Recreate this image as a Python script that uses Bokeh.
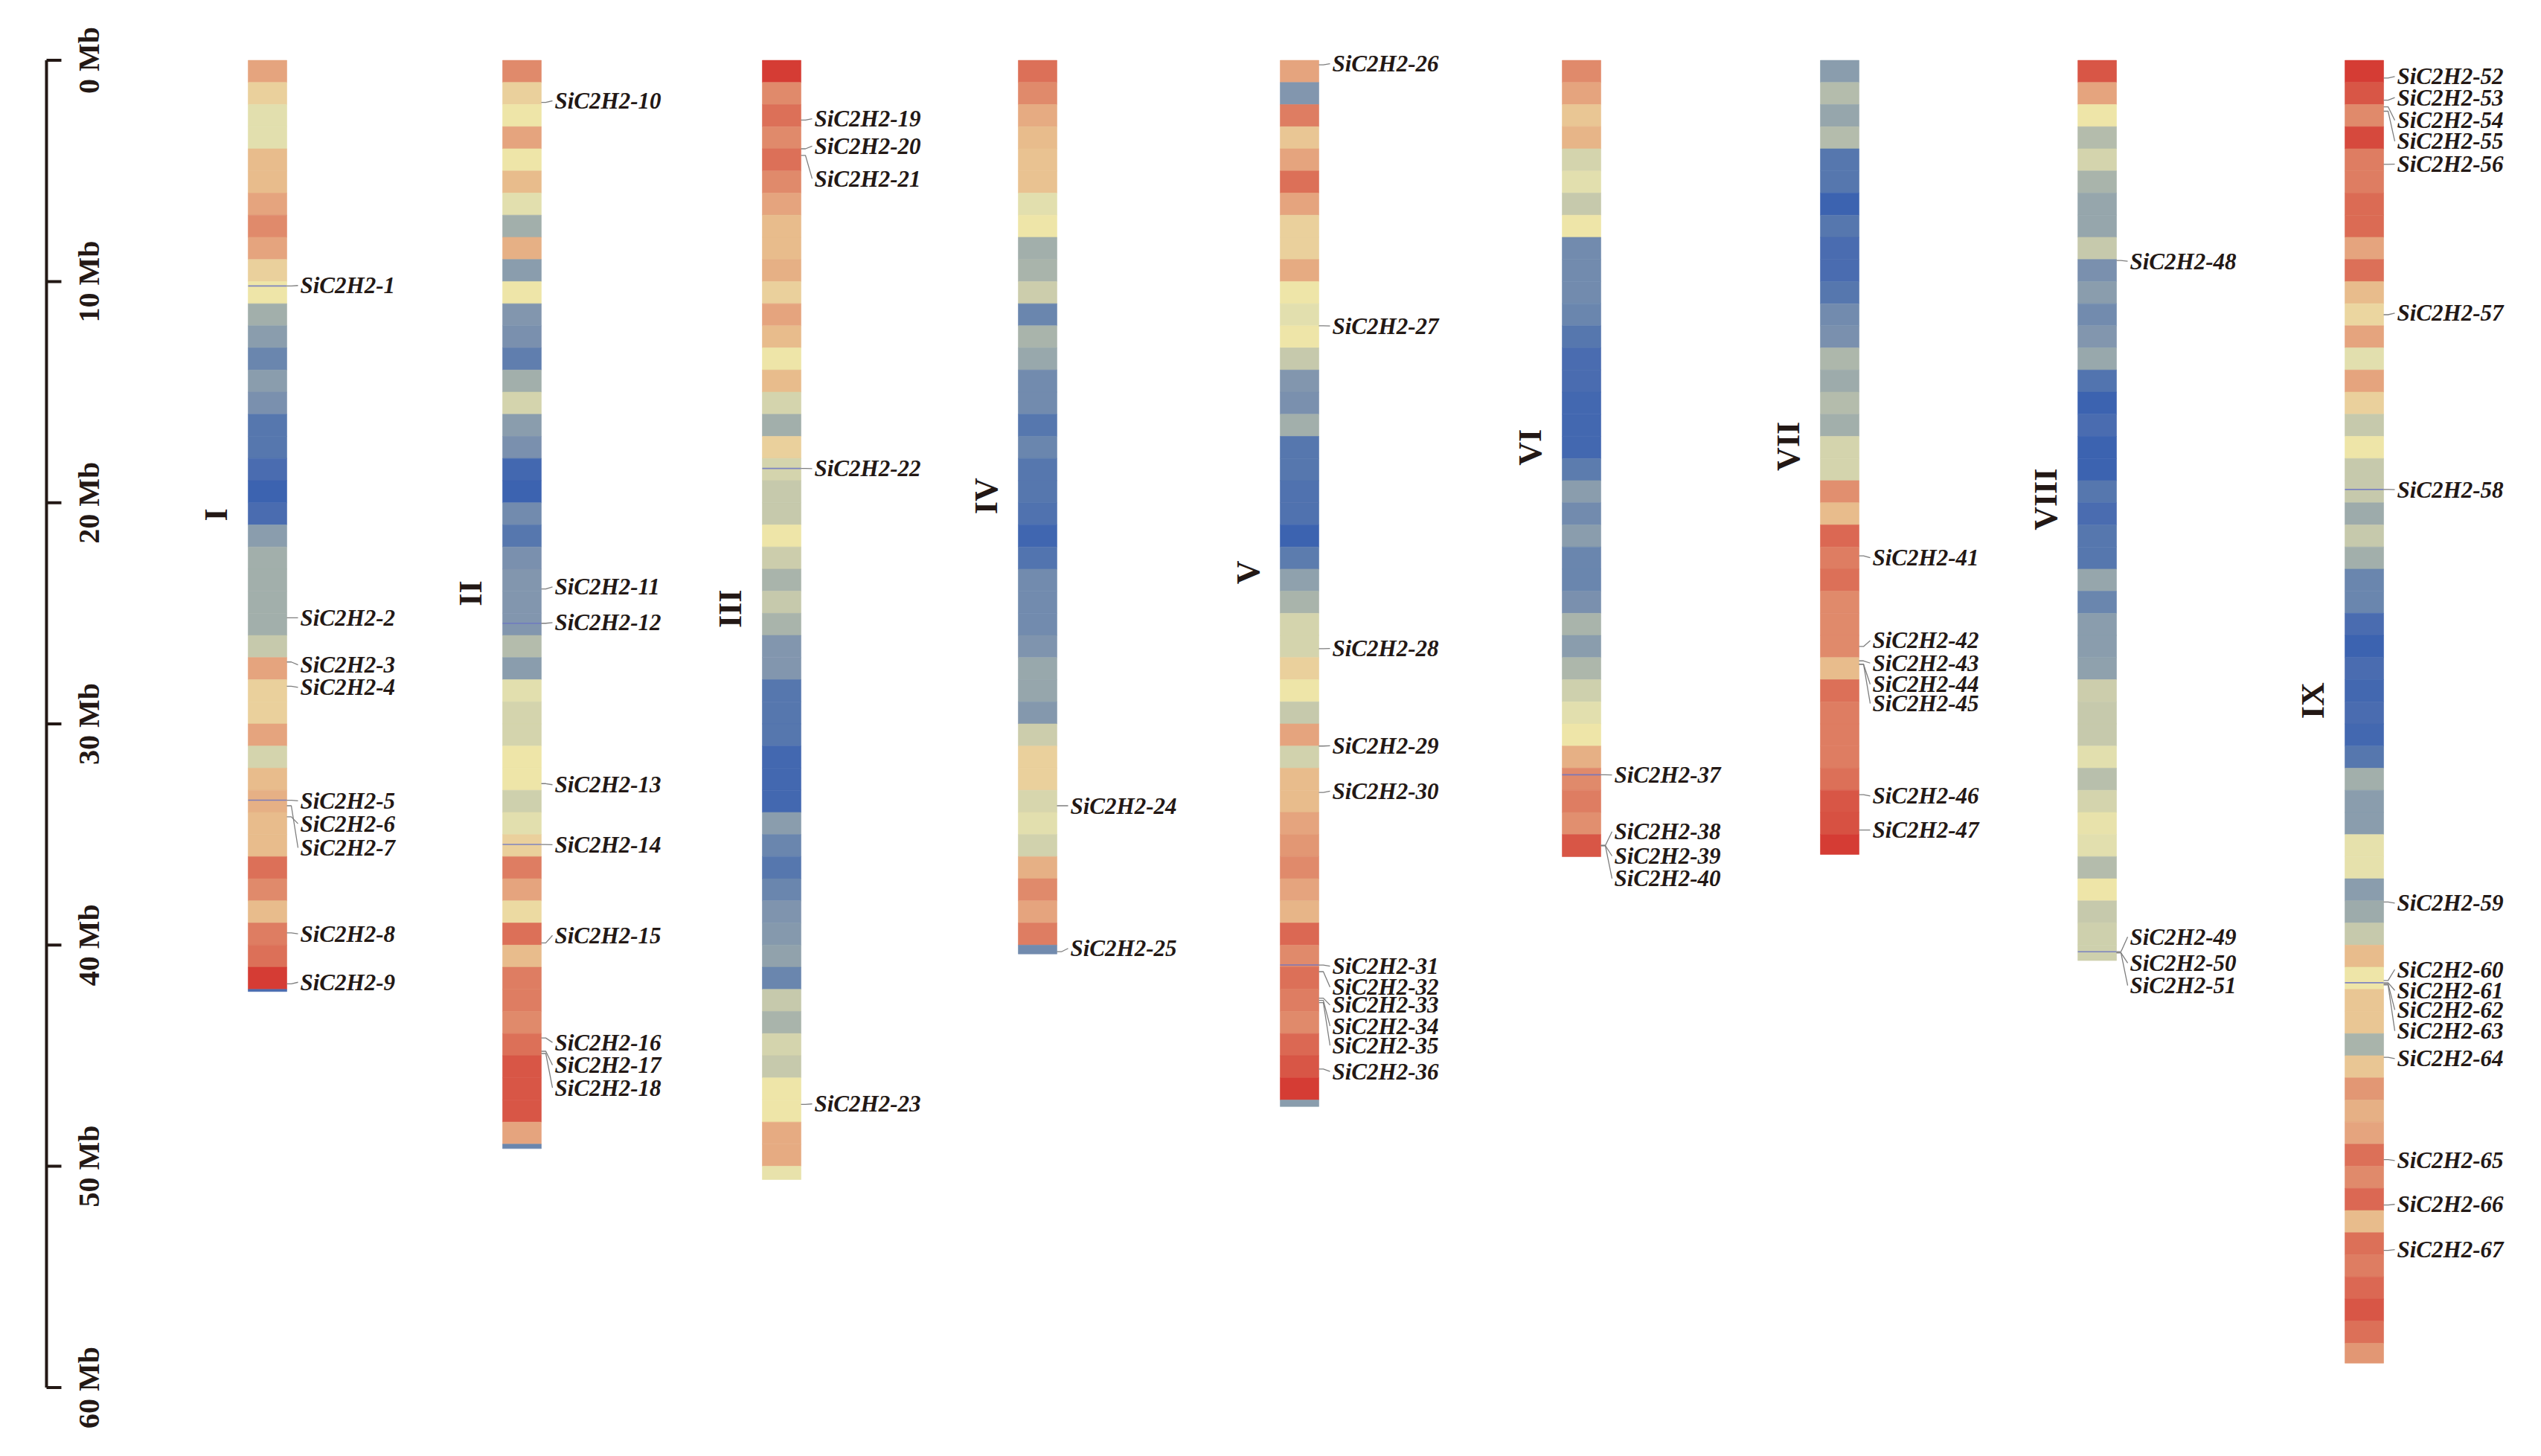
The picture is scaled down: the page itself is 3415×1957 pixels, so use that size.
import numpy as np
from bokeh.plotting import figure
from bokeh.models import ColumnDataSource, LinearColorMapper, Range1d
from bokeh.core.properties import value
from bokeh.embed import file_html
from bokeh.resources import INLINE

# ---------------- data ----------------
chrom_names = ["I", "II", "III", "IV", "V", "VI", "VII", "VIII", "IX"]
chrom_lengths = [42.1, 49.2, 50.6, 40.4, 47.3, 36.0, 35.9, 40.7, 58.9]  # Mb

# gene-density level per 1 Mb window (0 = low / blue, 16 = high / red)
density_I = [12, 10, 8, 8, 11, 11, 12, 13, 12, 10, 9, 6, 5, 3, 5, 4, 2, 2, 1, 0, 1, 5, 6, 6, 6, 6, 7,
             12, 10, 10, 12, 7.5, 11, 11.5, 11, 11, 14, 13, 11, 13.5, 14, 16, 1]
density_II = [13, 10, 9, 12, 9, 11, 8, 6, 11.5, 5, 9, 4.5, 4, 2.5, 6, 7.5, 5, 4, 0.5, 0, 3.5, 2, 4, 4.5,
              4.5, 4.5, 6.5, 5, 8, 7.5, 7.5, 9, 9, 7.3, 8, 10, 13.5, 12, 9.5, 14, 11, 13.5, 13.5, 13,
              14, 15, 15, 15, 12, 3]
density_III = [16, 13, 14, 13, 14, 13, 12, 11, 11, 11.5, 10, 12, 11, 9, 11, 7.5, 6, 10, 7.5, 7, 7, 9,
               7.2, 6.2, 7, 6.2, 4.5, 4.5, 2, 2, 2, 0.5, 0.5, 0.5, 5, 3, 2, 3, 4.3, 4.7, 5.3, 3, 7,
               6.2, 7.5, 7, 9, 9, 11.7, 11.7, 8.5]
density_IV = [14, 13, 11.7, 11, 10.7, 10.7, 8, 9, 6, 6.2, 7.2, 3, 6.2, 5.6, 3.5, 3.5, 2, 3, 2, 2, 1.5,
              0.3, 1.7, 3.5, 3.5, 3.5, 4.3, 5.6, 5.5, 4.6, 7.2, 10, 10, 7.6, 8, 7.4, 11.5, 13, 12,
              13.5, 3.5]
density_V = [12, 4.5, 13.5, 10.5, 12, 14, 12, 10, 10, 11.7, 9, 8, 9, 7, 4.5, 4, 6, 2, 2, 1.5, 1.5, 0,
             2.3, 5.2, 6.2, 7.5, 7.5, 10, 9, 7, 12, 7.4, 11, 11, 12, 12.5, 13, 12, 11.3, 14.3, 13, 14,
             13.5, 13, 14.3, 15, 16, 5]
density_VI = [13, 12, 10.5, 11.3, 7.5, 8, 7, 9, 3.5, 3.5, 3.5, 3, 2, 1, 1, 0.5, 0.5, 0.5, 2.3, 5, 3.5,
              5, 3, 3, 4, 6.2, 5, 6.3, 7.3, 8, 9, 11.5, 13, 13.5, 12.8, 15]
density_VII = [5, 6.5, 5.5, 6.5, 2, 2, 0, 2, 1, 1, 2, 3.5, 4, 6.3, 5.8, 6.5, 6, 7.5, 7.5, 12.8, 11,
               14.3, 13.5, 14, 13, 13, 13, 11, 14, 13.5, 13.5, 13.5, 14, 15, 15.2, 16.3]
density_VIII = [15, 12, 9, 6.5, 7.5, 6.2, 5.5, 5.5, 7, 4, 5, 3.5, 4.5, 5.6, 1.7, 0, 1, 0, 0, 2, 1, 2, 2,
                5.5, 3, 5, 5, 5.2, 7.2, 7, 7, 8, 6.6, 7.5, 8.5, 8, 6.5, 9, 7, 7.3, 7.3]
density_IX = [16, 15, 13, 15.5, 13.5, 13.5, 14.2, 14.2, 12, 14, 11, 9.7, 12, 8, 12, 10, 7, 9, 7, 7, 5.8,
              7, 6, 3, 3, 1, 0, 1, 0.5, 1, 0.5, 2, 6, 5, 5, 8.3, 8.3, 5, 5.8, 7, 11, 9, 10.5, 10.5,
              6.2, 10.5, 12.5, 11.5, 12, 14, 13, 14.3, 11, 14, 13.5, 14.3, 15, 14, 12.5]
densities = [density_I, density_II, density_III, density_IV, density_V,
             density_VI, density_VII, density_VIII, density_IX]

gene_ids = list(range(1, 68))
gene_chrom = ([0] * 9 + [1] * 9 + [2] * 5 + [3] * 2 + [4] * 11 + [5] * 4 + [6] * 7 + [7] * 4 + [8] * 16)
gene_pos = [10.2, 25.2, 27.2, 28.3, 33.45, 34.2, 33.7, 39.45, 41.75,
            1.9, 23.9, 25.45, 32.7, 35.45, 39.9, 44.2, 44.8, 44.9,
            2.7, 4.0, 4.3, 18.45, 47.2,
            33.7, 40.3,
            0.2, 12.0, 26.6, 31.0, 33.1, 40.9, 41.2, 42.4, 42.5, 42.6, 45.6,
            32.3, 35.5, 35.5, 35.5,
            22.4, 26.5, 27.15, 27.3, 27.3, 33.2, 34.8,
            9.05, 40.3, 40.35, 40.35,
            0.8, 1.8, 2.1, 2.3, 4.7, 11.5, 19.4, 38.05, 41.6, 41.7, 41.75, 41.8, 45.07, 49.7, 51.75, 53.8]
gene_label_pos = [10.18, 25.20, 27.33, 28.35, 33.48, 34.51, 35.60, 39.49, 41.68,
                  1.83, 23.81, 25.42, 32.75, 35.46, 39.56, 44.40, 45.42, 46.45,
                  2.64, 3.88, 5.35, 18.46, 47.18,
                  33.70, 40.15,
                  0.15, 12.01, 26.59, 30.99, 33.04, 40.95, 41.90, 42.71, 43.66, 44.54, 45.71,
                  32.31, 34.87, 35.97, 36.99,
                  22.49, 26.23, 27.25, 28.21, 29.08, 33.26, 34.80,
                  9.08, 39.63, 40.81, 41.83,
                  0.73, 1.68, 2.71, 3.66, 4.69, 11.43, 19.41, 38.10, 41.10, 42.05, 42.93, 43.88,
                  45.13, 49.74, 51.72, 53.77]
marked_genes = [1, 5, 12, 14, 22, 31, 37, 49, 58, 61]

axis_ticks = [0, 10, 20, 30, 40, 50, 60]
axis_labels = ["0 Mb", "10 Mb", "20 Mb", "30 Mb", "40 Mb", "50 Mb", "60 Mb"]

# ---------------- layout / style ----------------
W, H = 3399, 1941
PX_PER_MB = 29.73
TOP = 80.6            # screen y of 0 Mb
chrom_left = [333, 675, 1024, 1368, 1720, 2099, 2446, 2792, 3151]
CHROM_W = 52
TXT = "#231815"
SERIF = value("Liberation Serif")

anchors = ["#3C63B0", "#4A6CB0", "#5677AE", "#6A86AE", "#7A90AE", "#8A9DAD", "#A2AFAB", "#C6C9AC",
           "#E2DFAE", "#EEE5A8", "#EAD09C", "#E8BC8C", "#E5A47E", "#E08A6B", "#DC7058", "#D85646",
           "#D53C34"]


def hex2rgb(h):
    return np.array([int(h[i:i + 2], 16) for i in (1, 3, 5)], dtype=float)


steps = 10
palette = []
for i in range(len(anchors) - 1):
    a, b = hex2rgb(anchors[i]), hex2rgb(anchors[i + 1])
    for t in np.linspace(0, 1, steps, endpoint=False):
        c = a + (b - a) * t
        palette.append("#%02x%02x%02x" % tuple(int(round(v)) for v in c))
palette.append(anchors[-1])
mapper = LinearColorMapper(palette=palette, low=0, high=len(anchors) - 1)

y_top = (0 - TOP) / PX_PER_MB
y_bot = (H - TOP) / PX_PER_MB

p = figure(width=W, height=H, x_range=Range1d(0, W), y_range=Range1d(y_bot, y_top),
           output_backend="svg", toolbar_location=None, x_axis_type=None, y_axis_type=None,
           min_border=0, outline_line_color=None, background_fill_color="white")
p.xgrid.visible = False
p.ygrid.visible = False

# ---------------- chromosome bins ----------------
L, R, T, B, D = [], [], [], [], []
for ci, dens in enumerate(densities):
    length = chrom_lengths[ci]
    for k, d in enumerate(dens):
        s = float(k)
        e = min(k + 1.0, length)
        L.append(chrom_left[ci])
        R.append(chrom_left[ci] + CHROM_W)
        T.append(s)
        B.append(e)
        D.append(d)
bins = ColumnDataSource(dict(left=L, right=R, top=T, bottom=B, density=D))
p.quad(left="left", right="right", top="top", bottom="bottom", source=bins,
       fill_color={"field": "density", "transform": mapper},
       line_color={"field": "density", "transform": mapper}, line_width=0.6)

# ---------------- gene markers, connectors, labels ----------------
cx, cy = [], []
mx, my = [], []
lx, ly, lt = [], [], []
for gid, c, gp, lp in zip(gene_ids, gene_chrom, gene_pos, gene_label_pos):
    re = chrom_left[c] + CHROM_W
    tx = re + 18
    cx.append([re, re + 6, tx - 3])
    cy.append([gp, gp, lp])
    lx.append(tx)
    ly.append(lp)
    lt.append("SiC2H2-%d" % gid)
    if gid in marked_genes:
        mx.append([chrom_left[c], re])
        my.append([gp, gp])

p.multi_line(xs=mx, ys=my, line_color="#6B74C4", line_width=1.6, line_alpha=0.85)
p.multi_line(xs=cx, ys=cy, line_color="#7d7d7d", line_width=1.3)
p.text(x=lx, y=ly, text=lt, text_font=SERIF, text_font_style="bold italic",
       text_font_size="31px", text_color=TXT, text_baseline="middle", text_align="left")

# ---------------- chromosome names ----------------
nx = [cl - 43 for cl in chrom_left]
ny = [ln / 2 - 0.5 for ln in chrom_lengths]
p.text(x=nx, y=ny, text=chrom_names, angle=np.pi / 2, text_font=SERIF, text_font_style="bold",
       text_font_size="44px", text_color=TXT, text_align="center", text_baseline="middle")

# ---------------- scale axis ----------------
AX = 62
p.segment(x0=[AX], y0=[axis_ticks[0]], x1=[AX], y1=[axis_ticks[-1]], line_color=TXT, line_width=4)
p.segment(x0=[AX] * len(axis_ticks), y0=axis_ticks, x1=[AX + 20] * len(axis_ticks), y1=axis_ticks,
          line_color=TXT, line_width=4)
p.text(x=[119] * len(axis_ticks), y=axis_ticks, text=axis_labels, angle=np.pi / 2, text_font=SERIF,
       text_font_style="bold", text_font_size="40px", text_color=TXT, text_align="center",
       text_baseline="middle")

open("out.html", "w").write(file_html(p, INLINE))
